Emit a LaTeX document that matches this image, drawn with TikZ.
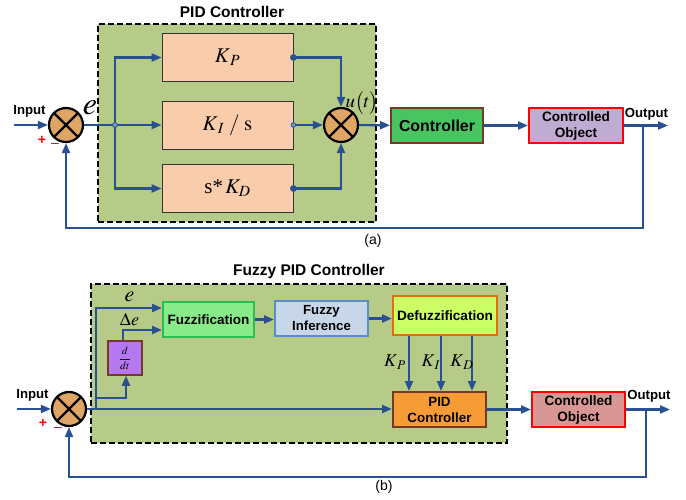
\documentclass[tikz,border=0pt]{standalone}
\usepackage{mathptmx}
\usepackage{fontspec}
\setmainfont{Liberation Sans}
\newfontfamily\tms{Liberation Serif}
\usetikzlibrary{arrows.meta,calc}
\definecolor{lnblue}{RGB}{41,80,145}
\definecolor{grpfill}{RGB}{183,203,137}
\definecolor{peach}{RGB}{249,204,172}
\definecolor{sumfill}{RGB}{222,165,101}
\definecolor{ctrgreen}{RGB}{72,196,96}
\definecolor{brownb}{RGB}{120,56,40}
\definecolor{lav}{RGB}{190,172,210}
\definecolor{fuzgreen}{RGB}{136,234,136}
\definecolor{fuzborder}{RGB}{40,190,80}
\definecolor{inffill}{RGB}{200,214,234}
\definecolor{infborder}{RGB}{90,140,200}
\definecolor{defill}{RGB}{204,255,102}
\definecolor{deborder}{RGB}{222,110,20}
\definecolor{pidfill}{RGB}{247,155,55}
\definecolor{objb}{RGB}{216,150,148}
\definecolor{ddtfill}{RGB}{182,120,240}
\definecolor{minusc}{RGB}{150,30,40}
\tikzset{
  ln/.style={draw=lnblue, line width=2.2pt},
  arr/.style={ln, -{Triangle[length=10pt,width=8pt]}},
  sumj/.style={circle, draw=black, line width=2.2pt, fill=sumfill, minimum size=34pt, inner sep=0pt,
    path picture={\draw[black,line width=2.2pt] (path picture bounding box.north west)--(path picture bounding box.south east)
      (path picture bounding box.north east)--(path picture bounding box.south west);}},
  gainbox/.style={draw=black!80, line width=0.8pt, fill=peach, minimum width=131pt, minimum height=48pt, inner sep=0pt,
    font=\fontsize{21}{21}\selectfont},
  blk/.style={line width=2pt, minimum height=35pt, inner sep=1pt, align=center},
  grp/.style={draw=black, line width=1.3pt, dash pattern=on 6pt off 3pt, fill=grpfill, inner sep=0pt},
  lbl/.style={font=\bfseries\fontsize{13.2}{14}\selectfont},
  ttl/.style={font=\bfseries\fontsize{15.5}{16}\selectfont},
  plus/.style={text=red, font=\bfseries\fontsize{14}{14}\selectfont, inner sep=0pt},
  minus/.style={text=minusc, font=\fontsize{14}{14}\selectfont, inner sep=0pt},
  dotb/.style={fill=lnblue},
}
\begin{document}
\begin{tikzpicture}[x=1pt,y=-1pt]
\useasboundingbox (0,0) rectangle (686,500);
% ---------------- (a) ----------------
\node[grp, minimum width=278pt, minimum height=198pt] (grpA) at (237,123) {};
\node[ttl] (titA) at (232,12) {PID Controller};
\node[sumj] (s1) at (66,125) {};
\coordinate (inA) at (14,125);
\draw[arr] (inA) -- (s1);
\node[lbl] (inlA) at (29.5,111) {Input};
\node[plus] (plA) at (42,140) {+};
\node[minus] (miA) at (55,145) {\textendash};
\node[font=\fontsize{32}{32}\selectfont] (eA) at (90,108) {$e$};
\node[gainbox] (kp) at (227.5,57.5) {$K_{\,P}$};
\node[gainbox] (ki) at (227.5,125) {$K_{\,I}\;/\;\mathrm{s}$};
\node[gainbox] (kd) at (227.5,188.5) {{\tms s*}$\,K_{D}$};
\coordinate (b1) at (115,125);
\draw[arr] (s1.east) -- (ki.west);
\draw[arr] (b1) |- (kp.west);
\draw[arr] (b1) |- (kd.west);
\filldraw[fill=lnblue!60, draw=lnblue, line width=0.8pt] (b1) circle (2.5);
\node[sumj] (s2) at (341,125) {};
\draw[arr] (kp.east) -| (s2.north);
\draw[arr] (kd.east) -| (s2.south);
\draw[arr] (ki.east) -- (s2.west);
\fill[dotb] (kp.east) circle (3.4);
\fill[dotb] (kd.east) circle (3.4);
\filldraw[fill=lnblue!60, draw=lnblue, line width=0.8pt] (ki.east) circle (2.3);
\node[font=\fontsize{19}{19}\selectfont] (uA) at (362,103) {$u\big(t\big)$};
\node[blk, fill=ctrgreen, draw=brownb, minimum width=92pt, font=\bfseries\fontsize{15.9}{16}\selectfont] (ctrA) at (437,125.5) {Controller};
\node[blk, fill=lav, draw=red, minimum width=94pt, font=\bfseries\fontsize{13.6}{16}\selectfont] (objA) at (576,125.5) {Controlled\\Object};
\draw[arr] (s2) -- (ctrA);
\draw[arr] (ctrA) -- (objA);
\coordinate (outA) at (668,125.5);
\coordinate (brA) at (643,125.5);
\coordinate (fbA) at (643,228);
\draw[arr] (objA) -- (outA);
\draw[arr] (brA) -- (fbA) -| (s1.south);
\node[lbl] (outlA) at (646.5,114) {Output};
\node[font=\fontsize{14}{14}\selectfont] (capA) at (373,241) {(a)};
% ---------------- (b) ----------------
\node[grp, minimum width=416pt, minimum height=159pt] (grpB) at (299,363.5) {};
\node[ttl] (titB) at (309,271.5) {Fuzzy PID Controller};
\node[sumj] (s3) at (69,409) {};
\coordinate (inB) at (17,409);
\draw[arr] (inB) -- (s3);
\node[lbl] (inlB) at (32.5,395) {Input};
\node[plus] (plB) at (43,423) {+};
\node[minus] (miB) at (58,429) {\textendash};
\node[blk, fill=fuzgreen, draw=fuzborder, minimum width=91pt, font=\bfseries\fontsize{13.5}{15}\selectfont] (fuz) at (208.5,319.5) {Fuzzification};
\node[blk, fill=inffill, draw=infborder, minimum width=93pt, font=\bfseries\fontsize{13.2}{16}\selectfont] (inf) at (321.5,318.5) {Fuzzy\\Inference};
\node[blk, fill=defill, draw=deborder, minimum width=104pt, minimum height=39pt, font=\bfseries\fontsize{13.6}{15}\selectfont] (defz) at (445,315.5) {Defuzzification};
\node[blk, fill=pidfill, draw=brownb, minimum width=93pt, font=\bfseries\fontsize{13.4}{16}\selectfont] (pid) at (439.5,409.5) {PID\\Controller};
\node[blk, fill=objb, draw=red, minimum width=93pt, font=\bfseries\fontsize{13.6}{16}\selectfont] (objB) at (578.5,409.5) {Controlled\\Object};
\node[draw=brownb, line width=1.5pt, fill=ddtfill, minimum width=34pt, minimum height=34pt, inner sep=0pt, font=\fontsize{11}{11}\selectfont] (ddt) at (125,358) {$\displaystyle\frac{d}{dt}$};
\coordinate (bB) at (96,409);
\coordinate (dB) at (96,398);
\draw[arr] (s3.east) -- (s3.east -| pid.west);
\draw[arr] (bB) |- ($(fuz.west)+(0,-11.5)$);
\draw[arr] (dB) -| ([xshift=1pt]ddt.south);
\draw[arr] ([xshift=-2pt]ddt.north) |- ($(fuz.west)+(0,10.5)$);
\node[font=\fontsize{22}{22}\selectfont] (eB) at (129.5,297) {$e$};
\node[font=\fontsize{18}{18}\selectfont] (deB) at (129.5,319) {$\Delta e$};
\draw[arr] (fuz.east) -- (fuz.east -| inf.west);
\draw[arr] (inf.east) -- (inf.east -| defz.west);
\draw[arr] ($(defz.south west)+(17,0)$) -- ($(pid.north west)+(17,0)$);
\draw[arr] ($(defz.south west)+(49,0)$) -- ($(pid.north west)+(49,0)$);
\draw[arr] ($(defz.south west)+(80,0)$) -- ($(pid.north west)+(80,0)$);
\node[font=\fontsize{18}{18}\selectfont] (kpB) at (395,362) {$K_{\,P}$};
\node[font=\fontsize{18}{18}\selectfont] (kiB) at (431,362) {$K_{\,I}$};
\node[font=\fontsize{18}{18}\selectfont] (kdB) at (462,362) {$K_{\,D}$};
\draw[arr] (pid) -- (objB);
\coordinate (outB) at (670,409.5);
\coordinate (brB) at (646,409.5);
\coordinate (fbB) at (646,477);
\draw[arr] (objB) -- (outB);
\draw[arr] (brB) -- (fbB) -| (s3.south);
\node[lbl] (outlB) at (649,396) {Output};
\node[font=\fontsize{14}{14}\selectfont] (capB) at (384,487) {(b)};
\end{tikzpicture}
\end{document}
